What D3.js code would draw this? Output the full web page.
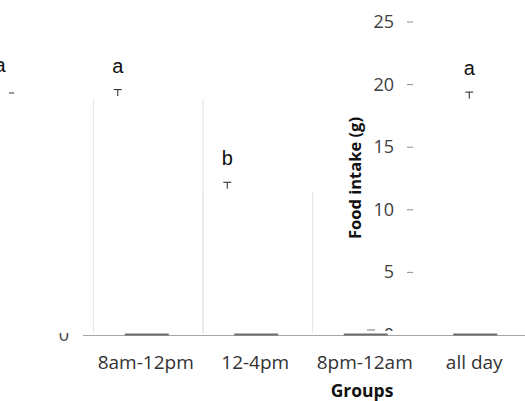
<!DOCTYPE html>
<html><head><meta charset="utf-8">
<script src="https://cdn.jsdelivr.net/npm/d3@7"></script>
<style>
html,body{margin:0;padding:0;background:#fff;}
svg{display:block;}
text{font-family:"Open Sans",sans-serif;}
</style></head>
<body>
<svg id="chart" width="525" height="401"></svg>
<script>
const categories = ["8am-12pm", "12-4pm", "8pm-12am", "all day"];
const means = [19.0, 11.6, 0.3, 18.8];
const errors = [0.6, 0.6, 0.2, 0.6];
const letters = ["a", "b", "", "a"];
const yTicks = [0, 5, 10, 15, 20, 25];

const svg = d3.select("#chart");
const x = d3.scaleBand().domain(categories).range([92, 530]).paddingInner(0).paddingOuter(0);
const y = d3.scaleLinear().domain([0, 25]).range([335, 22]);

// bars (white fill, white on white)
svg.append("g").selectAll("rect").data(categories).join("rect")
  .attr("x", d => x(d) + 1)
  .attr("y", (d, i) => y(means[i]))
  .attr("width", x.bandwidth())
  .attr("height", (d, i) => y(0) - y(means[i]))
  .attr("fill", "#fff")
  .attr("stroke", "none");
// faint visible side edges of the first two bars
const edges = svg.append("g");
categories.slice(0, 2).forEach((c, i) => {
  [x(c) + 1.5, x(c) + x.bandwidth() + 1.5].forEach(ex => {
    edges.append("line").attr("x1", ex).attr("x2", ex)
      .attr("y1", y(means[i]) + 2).attr("y2", y(0) - 2)
      .attr("stroke", "#e6e6e6").attr("stroke-width", 1.2);
  });
});

// baseline
svg.append("line").attr("x1", 83).attr("x2", 525).attr("y1", y(0) + 0.5).attr("y2", y(0) + 0.5)
  .attr("stroke", "#a6a6a6").attr("stroke-width", 1);

// dark bar bottoms
svg.append("g").selectAll("line").data(categories).join("line")
  .attr("x1", d => x(d) + x.bandwidth() / 2 - 22)
  .attr("x2", d => x(d) + x.bandwidth() / 2 + 22)
  .attr("y1", y(0) - 0.5).attr("y2", y(0) - 0.5)
  .attr("stroke", "#6e6e6e").attr("stroke-width", 2);

// error bars
const errX = i => x(categories[i]) + x.bandwidth() / 2 + (i === categories.length - 1 ? -6 : -29);
const eg = svg.append("g");
categories.forEach((c, i) => {
  if (i === 2) return;
  const cx = errX(i);
  const top = y(means[i] + errors[i]);
  eg.append("line").attr("x1", cx - 4).attr("x2", cx + 4).attr("y1", top).attr("y2", top)
    .attr("stroke", "#222").attr("stroke-width", 1);
  eg.append("line").attr("x1", cx).attr("x2", cx).attr("y1", top).attr("y2", y(means[i]) - 1)
    .attr("stroke", "#222").attr("stroke-width", 1);
  eg.append("text").attr("x", cx).attr("y", top - 17).attr("text-anchor", "middle")
    .style("font-family", "'Liberation Sans',Arial,sans-serif").style("font-size", "20px")
    .attr("fill", "#111").text(letters[i]);
});
// partial letter at left edge (as in the reference)
eg.append("text").attr("x", 0).attr("y", 72).attr("text-anchor", "middle")
  .style("font-family", "'Liberation Sans',Arial,sans-serif").style("font-size", "20px")
  .attr("fill", "#111").text("a");
eg.append("line").attr("x1", 9).attr("x2", 14).attr("y1", 93).attr("y2", 93).attr("stroke", "#333");

// clip paths
const defs = svg.append("defs");
defs.append("clipPath").attr("id", "clipTop").append("rect").attr("x", 350).attr("y", 0).attr("width", 100).attr("height", 331);
defs.append("clipPath").attr("id", "clipBottom").append("rect").attr("x", 40).attr("y", 333).attr("width", 60).attr("height", 20);

// y axis labels (right side)
const ya = svg.append("g");
yTicks.forEach(t => {
  ya.append("text").attr("x", 394).attr("y", y(t) + 6).attr("text-anchor", "end")
    .style("font-size", "18px").attr("fill", "#404040")
    .attr("clip-path", t === 0 ? "url(#clipTop)" : null)
    .text(t);
  if (t > 0) ya.append("line").attr("x1", 407).attr("x2", 413).attr("y1", y(t)).attr("y2", y(t))
    .attr("stroke", "#8c8c8c").attr("stroke-width", 1);
});
ya.append("line").attr("x1", 367).attr("x2", 375).attr("y1", 330).attr("y2", 330).attr("stroke", "#777");
// left "0" cut off
svg.append("text").attr("x", 64).attr("y", y(0) + 6).attr("text-anchor", "middle")
  .style("font-size", "18px").attr("fill", "#404040").attr("clip-path", "url(#clipBottom)").text("0");

// y title
svg.append("text").attr("transform", `translate(361,178) rotate(-90)`).attr("text-anchor", "middle")
  .style("font-size", "16.5px").style("font-weight", "bold").attr("fill", "#111").text("Food intake (g)");

// x labels
svg.append("g").selectAll("text").data(categories).join("text")
  .attr("x", d => x(d) + x.bandwidth() / 2 - 1)
  .attr("y", 369)
  .attr("text-anchor", "middle")
  .style("font-size", "19px").attr("fill", "#333")
  .text(d => d);

// x title
svg.append("text").attr("x", 362).attr("y", 397).attr("text-anchor", "middle")
  .style("font-size", "17.5px").style("font-weight", "bold").attr("fill", "#111").text("Groups");
</script>
</body></html>
